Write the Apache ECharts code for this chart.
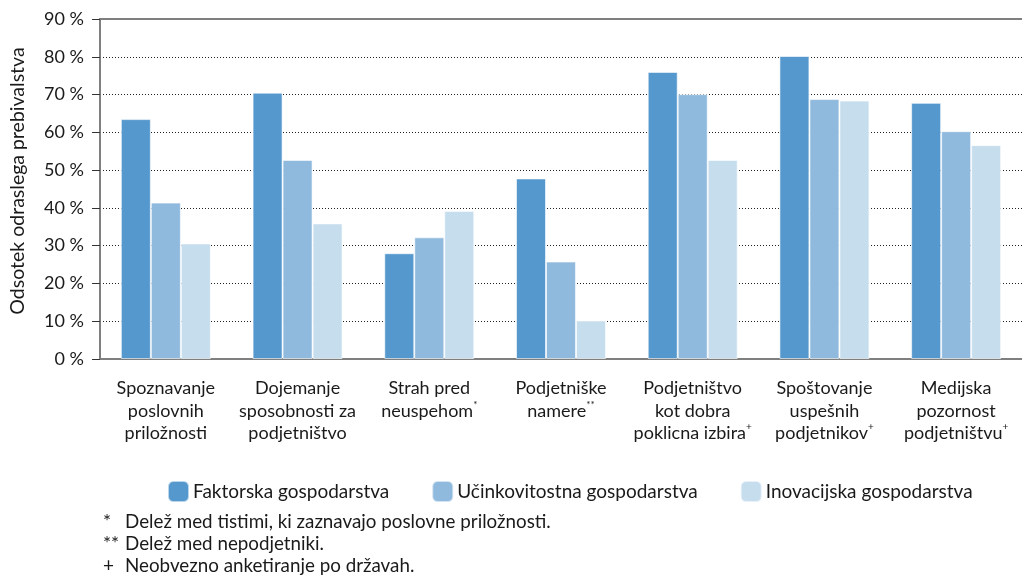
<!DOCTYPE html>
<html>
<head>
<meta charset="utf-8">
<script src="https://cdn.jsdelivr.net/npm/echarts@6/dist/echarts.min.js"></script>
<style>
  html, body { margin: 0; padding: 0; background: #fff; }
  #chart { width: 1022px; height: 576px; }
</style>
</head>
<body>
<div id="chart"></div>
<script>
// kategorije (z oznako opombe)
const categories = [
  'Spoznavanje\nposlovnih\npriložnosti',
  'Dojemanje\nsposobnosti za\npodjetništvo',
  'Strah pred\nneuspehom{sup|*}',
  'Podjetniške\nnamere{sup|**}',
  'Podjetništvo\nkot dobra\npoklicna izbira{sup|+}',
  'Spoštovanje\nuspešnih\npodjetnikov{sup|+}',
  'Medijska\npozornost\npodjetništvu{sup|+}'
];

const seriesNames = ['Faktorska gospodarstva', 'Učinkovitostna gospodarstva', 'Inovacijska gospodarstva'];
const faktorska = [63.5, 70.5, 28.0, 47.8, 76.0, 80.2, 67.8];
const ucinkovitostna = [41.4, 52.7, 32.2, 25.8, 70.1, 68.8, 60.3];
const inovacijska = [30.6, 35.9, 39.2, 10.2, 52.7, 68.4, 56.6];

const footnoteMarks = ['*', '**', '+'];
const footnotes = [
  'Delež med tistimi, ki zaznavajo poslovne priložnosti.',
  'Delež med nepodjetniki.',
  'Neobvezno anketiranje po državah.'
];

const colors = ['#5598cd', '#8fb9dd', '#c6ddee'];
const FONT = 'Lato';
const TXT = '#1a1a1a';

const chart = echarts.init(document.getElementById('chart'));

// opombe pod grafom
const noteGraphics = [];
const noteY = [522, 544, 566];
footnotes.forEach((t, i) => {
  noteGraphics.push({
    type: 'text', x: 103, y: noteY[i],
    style: { text: footnoteMarks[i], font: '19px ' + FONT, fill: TXT, verticalAlign: 'middle' }
  });
  noteGraphics.push({
    type: 'text', x: 125, y: noteY[i],
    style: { text: t, font: '18.8px ' + FONT, fill: TXT, verticalAlign: 'middle' }
  });
});

const seriesData = [faktorska, ucinkovitostna, inovacijska];

chart.setOption({
  backgroundColor: '#fff',
  textStyle: { fontFamily: FONT },
  animation: false,
  grid: { left: 99, right: 0, top: 19, bottom: 217 },
  legend: {
    data: seriesNames,
    top: 475,
    left: 162,
    itemWidth: 21,
    itemHeight: 21,
    itemGap: 42,
    textStyle: { fontSize: 19, color: TXT, fontFamily: FONT, padding: [0, 0, 0, -1] },
    icon: 'roundRect'
  },
  xAxis: [
    {
      type: 'category',
      data: categories,
      axisLine: { lineStyle: { color: '#7f7f7f', width: 2 } },
      axisTick: { show: false },
      axisLabel: {
        interval: 0,
        margin: 18,
        fontSize: 18,
        lineHeight: 22.5,
        color: TXT,
        rich: {
          sup: { fontSize: 10, verticalAlign: 'top', lineHeight: 22.5, padding: [0, 0, 8, 0] }
        }
      }
    },
    {
      type: 'category',
      position: 'top',
      data: categories,
      axisLine: { show: true, lineStyle: { color: '#7f7f7f', width: 2 } },
      axisTick: { show: false },
      axisLabel: { show: false }
    }
  ],
  yAxis: {
    type: 'value',
    min: 0,
    max: 90,
    interval: 10,
    name: 'Odsotek odraslega prebivalstva',
    nameLocation: 'middle',
    nameGap: 72,
    nameRotate: 90,
    nameTextStyle: { fontSize: 19.5, color: TXT, padding: [0, 0, 0, 16] },
    axisLine: { show: true, lineStyle: { color: '#7f7f7f', width: 2 } },
    axisTick: { show: true, length: 8, lineStyle: { color: '#333' } },
    axisLabel: { fontSize: 18, color: TXT, margin: 16, formatter: v => v + ' %' },
    splitLine: { show: true, lineStyle: { color: '#222', type: [1, 2], width: 1 } }
  },
  series: seriesData.map((d, i) => ({
    name: seriesNames[i],
    type: 'bar',
    data: d,
    barWidth: 30,
    barGap: '0%',
    itemStyle: { color: colors[i], borderColor: 'rgba(255,255,255,0.6)', borderWidth: 1 }
  })),
  graphic: noteGraphics
});
</script>
</body>
</html>
